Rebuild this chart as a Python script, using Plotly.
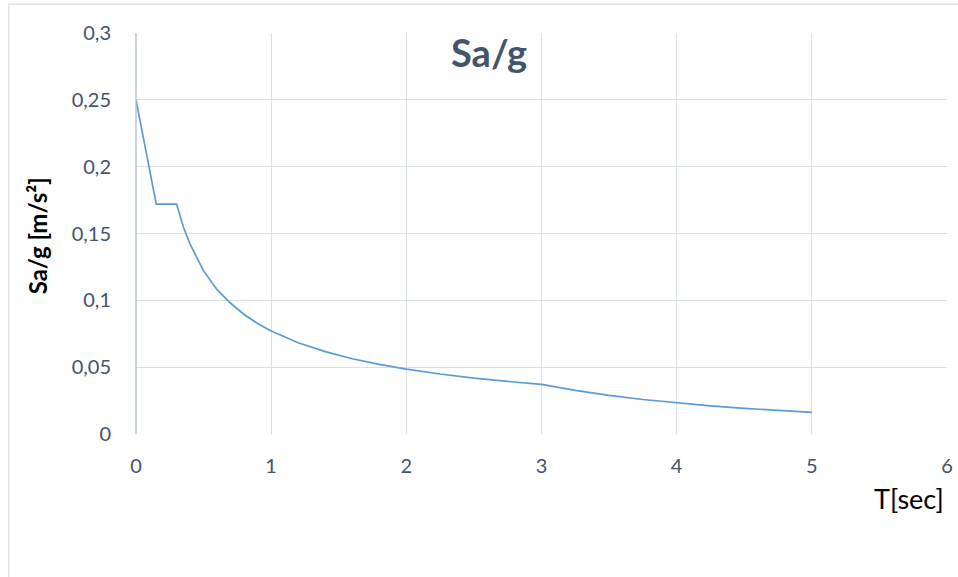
import plotly.graph_objects as go

# Period T [sec]
T = [0, 0.15, 0.3, 0.35, 0.4, 0.5, 0.6, 0.7, 0.8, 0.9, 1.0, 1.2, 1.4, 1.6, 1.8,
     2.0, 2.25, 2.5, 2.75, 3.0, 3.25, 3.5, 3.75, 4.0, 4.25, 4.5, 4.75, 5.0]
# Spectral acceleration Sa/g
SA = [0.25, 0.172, 0.172, 0.155, 0.142, 0.122, 0.108, 0.0978, 0.0894, 0.0827,
      0.0771, 0.0683, 0.0616, 0.0563, 0.0521, 0.0486, 0.0449, 0.0418, 0.0393,
      0.0371, 0.0326, 0.0289, 0.0258, 0.0234, 0.0211, 0.0192, 0.0176, 0.0162]

X_TICKS = [0, 1, 2, 3, 4, 5, 6]
X_LABELS = ["0", "1", "2", "3", "4", "5", "6"]
Y_TICKS = [0, 0.05, 0.1, 0.15, 0.2, 0.25, 0.3]
Y_LABELS = ["0", "0,05", "0,1", "0,15", "0,2", "0,25", "0,3"]

FONT = "Lato, 'Open Sans', sans-serif"
TICK_COLOR = "#44546a"
GRID = "#d9dee7"

fig = go.Figure()
fig.add_trace(go.Scatter(x=T, y=SA, mode="lines",
                         line=dict(color="#5b9bd5", width=1.7),
                         showlegend=False, hoverinfo="skip"))

fig.update_layout(
    width=958, height=577, autosize=False,
    margin=dict(l=136, r=11, t=33, b=143),
    paper_bgcolor="white", plot_bgcolor="white",
    font=dict(family=FONT, color=TICK_COLOR, size=20),
    xaxis=dict(range=[0, 6], tickvals=X_TICKS, ticktext=X_LABELS,
               showgrid=True, gridcolor=GRID, gridwidth=1.3, automargin=False,
               zeroline=False, showline=False, ticks="",
               ticklabelstandoff=18, tickfont=dict(size=20, color=TICK_COLOR)),
    yaxis=dict(range=[0, 0.3], tickvals=Y_TICKS, ticktext=Y_LABELS,
               showgrid=True, gridcolor=GRID, gridwidth=1.3, automargin=False,
               zeroline=False, showline=False, ticks="",
               ticklabelstandoff=24, tickfont=dict(size=20, color=TICK_COLOR)),
    shapes=[
        # outer chart border
        dict(type="rect", xref="paper", yref="paper",
             x0=-0.1568, x1=1.05, y0=-0.37, y1=1.0721,
             line=dict(color="#d9dde5", width=1.3), layer="below"),
        # left axis line
        dict(type="line", xref="paper", yref="paper", x0=0, x1=0, y0=0, y1=1,
             line=dict(color="#aebbd3", width=1.3)),
    ],
    annotations=[
        dict(text="<b>Sa/g</b>", xref="paper", yref="paper",
             x=(489 - 136) / 810, y=1 - (52 - 33) / 402,
             xanchor="center", yanchor="middle", showarrow=False,
             font=dict(family=FONT, size=38, color="#44546a")),
        dict(text="<b>Sa/g [m/s²]</b>", xref="paper", yref="paper",
             x=(38 - 136) / 810, y=1 - (236 - 33) / 402, textangle=-90,
             xanchor="center", yanchor="middle", showarrow=False,
             font=dict(family=FONT, size=24, color="#000000")),
        dict(text="T[sec]", xref="paper", yref="paper",
             x=(908 - 136) / 810, y=-(500 - 435) / 402,
             xanchor="center", yanchor="middle", showarrow=False,
             font=dict(family=FONT, size=27, color="#000000")),
    ],
)

fig.write_html("out.html",
               config={"displayModeBar": False, "responsive": False},
               post_script="document.documentElement.style.overflow='hidden';"
                           "document.body.style.overflow='hidden';"
                           "document.body.style.margin='0';document.body.style.padding='0';")
